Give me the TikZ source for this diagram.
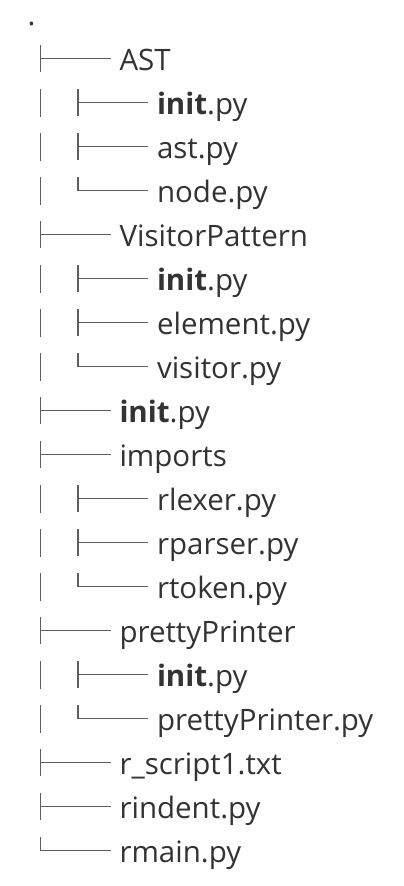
\documentclass[tikz,border=0pt]{standalone}
\usepackage{fontspec}
\setmainfont{Open Sans}
\definecolor{txtc}{HTML}{333333}
\definecolor{linec}{HTML}{5E5E5E}
\tikzset{
  lbl/.style={anchor=base west, inner sep=0pt, outer sep=0pt, text=txtc, font=\fontsize{29.5}{30}\selectfont},
  treeline/.style={draw=linec, line width=1.2pt}
}
\begin{document}
\begin{tikzpicture}[x=1pt,y=1pt]
\useasboundingbox (0,0) rectangle (404,-886);
\node[lbl] (root) at (27.5,-25.5) {.};
\foreach \i/\lvl/\kind/\txt in {
  1/1/t/AST,
  2/2/t/{\textbf{init}.py},
  3/2/t/ast.py,
  4/2/l/node.py,
  5/1/t/VisitorPattern,
  6/2/t/{\textbf{init}.py},
  7/2/t/element.py,
  8/2/l/visitor.py,
  9/1/t/{\textbf{init}.py},
  10/1/t/imports,
  11/2/t/rlexer.py,
  12/2/t/rparser.py,
  13/2/l/rtoken.py,
  14/1/t/prettyPrinter,
  15/2/t/{\textbf{init}.py},
  16/2/l/prettyPrinter.py,
  17/1/t/r\_script1.txt,
  18/1/t/rindent.py,
  19/1/l/rmain.py}{
  \pgfmathsetmacro{\yy}{-(14.7+44*\i)}
  \ifnum\lvl=1
    \def\xv{40.7}\def\xh{110.7}\def\xt{119.5}
  \else
    \def\xv{78}\def\xh{148.2}\def\xt{157}
    % continuation pipe of the parent level
    \coordinate (p\i a) at (40.7,\yy+14);
    \coordinate (p\i b) at (40.7,\yy-14);
    \draw[treeline] (p\i a) -- (p\i b);
  \fi
  \node[lbl] (n\i) at (\xt,\yy-11.3) {\txt};
  \coordinate (c\i) at (\xv,\yy);
  \coordinate (h\i) at (\xh,\yy);
  \coordinate (top\i) at (\xv,\yy+13.6);
  \coordinate (bot\i) at (\xv,\yy-13.6);
  \if t\kind
    \draw[treeline] (top\i) -- (bot\i);
  \else
    \draw[treeline] (top\i) -- (c\i);
  \fi
  \draw[treeline] (c\i) -- (h\i);
}
\end{tikzpicture}
\end{document}
